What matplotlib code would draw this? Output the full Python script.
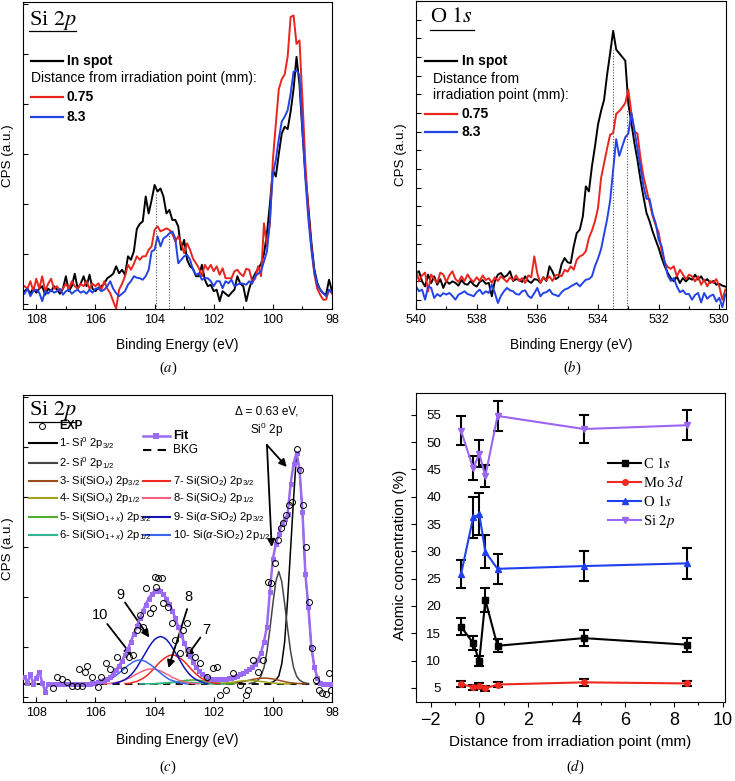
import matplotlib
matplotlib.use("Agg")
import matplotlib.pyplot as plt
import numpy as np
from matplotlib.lines import Line2D
from matplotlib.ticker import MultipleLocator

plt.rcParams['font.family'] = ['Liberation Sans', 'DejaVu Sans']
plt.rcParams['mathtext.fontset'] = 'custom'
plt.rcParams['mathtext.rm'] = 'Liberation Sans'
plt.rcParams['mathtext.it'] = 'Liberation Sans:italic'
plt.rcParams['mathtext.bf'] = 'Liberation Sans:bold'
SERIF = ['Liberation Serif', 'DejaVu Serif']

BLACK, RED, BLUE = '#000000', '#E8251F', '#2443E6'
PURPLE = '#9A6BF2'

# ---------------- (a) Si 2p, 108.4 -> 98.0 eV, 0.1 eV steps ----------------
si_spot = [0.25, 0.30, 0.20, 0.32, 0.22, 0.30, 0.35, 0.18, 0.30, 0.25,
           0.35, 0.28, 0.20, 0.30, 0.55, 0.25, 0.35, 0.60, 0.30, 0.40,
           0.55, 0.35, 0.58, 0.30, 0.25, 0.32, 0.35, 0.40, 0.51, 0.55,
           0.60, 0.75, 0.61, 0.68, 0.58, 0.95, 0.88, 1.05, 1.50, 1.60,
           1.65, 2.15, 1.81, 2.08, 2.38, 2.25, 2.31, 2.15, 1.81, 1.88,
           1.68, 1.68, 1.55, 1.08, 1.28, 0.88, 0.75, 0.70, 0.55, 0.55,
           0.78, 0.48, 0.35, 0.38, 0.25, 0.28, 0.05, 0.25, 0.20, 0.15,
           0.22, 0.28, 0.55, 0.40, 0.35, 0.05, 0.30, 0.48, 0.60, 0.70,
           0.80, 1.00, 1.41, 2.00, 2.68, 2.55, 3.00, 3.41, 3.55, 3.50,
           3.85, 4.30, 4.95, 4.40, 3.45, 2.60, 1.95, 1.25, 0.70, 0.42,
           0.28, 0.21, 0.18, 0.48, 0.25]
si_075 = [0.35, 0.30, 0.45, 0.25, 0.50, 0.30, 0.55, 0.25, 0.40, 0.50,
          0.30, 0.35, 0.25, 0.30, 0.40, 0.30, 0.45, 0.35, 0.30, 0.40,
          0.35, 0.45, 0.30, 0.40, 0.35, 0.41, 0.28, 0.45, 0.30, 0.21,
          0.05, -0.10, 0.28, 0.40, 0.55, 0.78, 0.68, 0.80, 0.95, 0.88,
          0.95, 0.95, 1.08, 1.15, 1.48, 1.55, 1.45, 1.48, 1.51, 1.48,
          1.40, 1.25, 1.35, 1.21, 1.01, 1.21, 1.08, 0.90, 0.81, 0.71,
          0.55, 0.78, 0.68, 0.78, 0.65, 0.75, 0.58, 0.71, 0.51, 0.51,
          0.51, 0.65, 0.68, 0.60, 0.55, 0.70, 0.68, 0.45, 0.50, 0.75,
          0.55, 1.61, 1.15, 1.60, 2.88, 3.60, 4.30, 4.50, 4.60, 4.95,
          5.75, 5.78, 5.21, 5.28, 4.10, 2.80, 1.85, 1.15, 0.60, 0.30,
          0.18, 0.08, 0.08, 0.28, 0.20]
si_83 = [0.20, 0.30, 0.15, 0.25, 0.28, 0.22, 0.05, 0.25, 0.20, 0.28,
         0.22, 0.25, 0.30, 0.18, 0.25, 0.28, 0.20, 0.25, 0.28, 0.22,
         0.25, 0.20, 0.28, 0.22, 0.30, 0.31, 0.25, 0.28, 0.35, 0.45,
         0.30, 0.21, 0.15, 0.20, 0.25, 0.38, 0.45, 0.55, 0.52, 0.51,
         0.48, 0.55, 0.68, 1.05, 1.08, 1.35, 1.15, 1.31, 1.35, 1.41,
         1.45, 1.31, 0.81, 0.88, 0.95, 0.98, 0.88, 0.68, 0.58, 0.61,
         0.48, 0.51, 0.51, 0.45, 0.35, 0.45, 0.45, 0.31, 0.45, 0.41,
         0.48, 0.35, 0.38, 0.41, 0.40, 0.38, 0.45, 0.40, 0.55, 0.60,
         0.65, 0.85, 1.05, 1.70, 2.61, 2.88, 3.30, 3.65, 3.75, 3.88,
         4.21, 4.65, 4.68, 4.58, 3.50, 2.50, 1.70, 1.10, 0.65, 0.38,
         0.28, 0.21, 0.15, 0.28, 0.22]
si_mark_E = [103.95, 103.5]
si_mark_top = [2.22, 1.45]

# ---------------- (b) O 1s, 540.0 -> 529.8 eV, 0.1 eV steps ----------------
o_spot = [1.43, 1.52, 0.98, 0.71, 1.34, 0.89, 1.25, 0.80, 1.10, 0.63,
          1.00, 0.85, 0.98, 0.90, 0.75, 1.05, 0.85, 0.80, 1.00, 0.80,
          0.70, 0.95, 1.05, 0.85, 0.90, 0.18, 1.00, 1.34, 1.43, 1.20,
          1.30, 1.52, 1.00, 1.10, 1.07, 0.95, 1.25, 1.00, 0.90, 1.10,
          1.07, 0.90, 1.20, 1.00, 1.79, 1.50, 1.10, 1.20, 1.90, 2.23,
          2.00, 1.96, 2.86, 3.57, 3.75, 4.46, 6.07, 5.80, 7.14, 8.20,
          9.38, 10.10, 10.70, 12.05, 13.20, 14.40, 13.40, 13.20, 13.00, 12.80,
          10.50, 9.46, 8.39, 7.50, 6.43, 5.50, 4.64, 4.20, 3.66, 3.20,
          2.77, 2.23, 1.79, 1.43, 1.16, 0.98, 1.25, 0.89, 1.16, 0.98,
          1.16, 1.07, 1.34, 1.07, 1.25, 0.98, 1.10, 0.90, 1.00, 0.80,
          0.85, 0.75, 0.70]
o_075 = [1.60, 1.00, 1.30, 1.45, 0.45, 1.35, 1.10, 0.90, 1.45, 1.35,
         0.95, 1.30, 1.52, 1.10, 0.95, 1.25, 1.00, 1.35, 1.10, 0.95,
         1.20, 1.00, 1.30, 1.05, 1.15, 0.90, 1.20, 1.00, 1.25, 1.10,
         0.95, 1.20, 1.05, 1.30, 1.00, 1.15, 0.90, 1.30, 1.20, 2.32,
         1.40, 0.90, 1.20, 1.05, 1.25, 1.00, 1.30, 1.34, 1.25, 1.60,
         1.50, 1.79, 1.61, 2.14, 2.32, 2.40, 2.60, 3.30, 3.70, 4.20,
         4.90, 6.50, 7.30, 8.10, 8.84, 8.93, 9.95, 10.10, 10.30, 10.54,
         11.25, 10.00, 9.00, 8.90, 7.60, 6.60, 5.90, 5.20, 4.50, 4.00,
         3.60, 2.60, 2.00, 1.75, 1.65, 1.79, 1.25, 1.60, 1.35, 1.10,
         1.34, 1.25, 0.98, 1.25, 0.80, 1.07, 0.71, 1.00, 0.90, 1.10,
         0.70, 0.00, 0.55]
o_83 = [0.71, 0.45, 0.54, 0.00, 0.71, 0.63, 0.09, 0.30, 0.18, 0.35,
        0.27, 0.36, 0.20, 0.00, 0.27, 0.35, 0.45, 0.30, 0.25, 0.18,
        0.40, 0.54, 0.30, 0.45, 0.36, 0.80, 0.36, -0.18, 0.20, 0.45,
        0.63, 0.50, 0.45, 0.30, 0.27, 0.45, 0.50, 0.20, 0.09, 0.35,
        0.63, 0.18, 0.36, 0.40, 0.54, 0.30, 0.25, 0.18, 0.40, 0.54,
        0.60, 0.71, 0.80, 0.89, 0.71, 0.90, 1.07, 1.10, 1.25, 1.79,
        2.20, 2.70, 3.50, 4.30, 5.30, 6.96, 8.60, 7.70, 8.21, 8.70,
        8.90, 10.00, 9.10, 8.10, 7.10, 6.07, 5.40, 5.40, 4.60, 4.10,
        3.20, 2.86, 2.00, 1.30, 1.00, 1.16, 0.71, 0.40, 0.50, 0.30,
        0.30, 0.00, 0.25, 0.36, -0.15, 0.36, 0.05, 0.20, 0.27, -0.10,
        0.10, -0.40, 0.30]
o_mark_E = [533.49, 533.05]
o_mark_top = [13.4, 10.2]

# ---------------- (c) Si 2p fit ----------------
exp_E = [107.42, 107.30, 107.13, 106.96, 106.80, 106.63, 106.57, 106.46, 106.35, 106.27,
         106.10, 105.90, 105.80, 105.64, 105.50, 105.28, 105.05, 104.88, 104.74, 104.60,
         104.49, 104.38, 104.29, 104.15, 104.07, 103.98, 103.95, 103.87, 103.76, 103.70,
         103.53, 103.42, 103.31, 103.14, 103.05, 102.92, 102.82, 102.63, 102.47, 102.24,
         102.02, 101.88, 101.79, 101.57, 101.34, 101.12, 100.91, 100.83, 100.67, 100.50,
         100.33, 100.16, 100.05, 99.93, 99.82, 99.74, 99.65, 99.56, 99.45, 99.34,
         99.20, 99.09, 98.98, 98.89, 98.78, 98.66, 98.53, 98.44, 98.33, 98.21,
         98.10, 98.02]
exp_I = [0.17, 0.40, 0.35, 0.30, 0.21, 0.21, 0.55, 0.21, 0.50, 0.62,
         0.39, 0.20, 0.39, 0.67, 0.55, 0.80, 0.53, 0.80, 0.83, 1.33,
         1.63, 1.40, 2.17, 1.67, 1.77, 2.40, 2.20, 2.37, 2.37, 1.87,
         1.80, 1.47, 1.13, 0.87, 1.33, 1.47, 0.93, 0.80, 0.67, 0.40,
         0.57, 0.60, 0.03, 0.13, 0.47, 0.23, 0.03, 0.13, 0.73, 0.50,
         0.73, 2.30, 2.27, 2.67, 3.13, 3.37, 3.47, 3.63, 3.83, 3.90,
         4.95, 4.53, 3.83, 3.00, 1.90, 0.97, 0.33, 0.13, 0.08, 0.05,
         0.47, 0.13]
# fit envelope, 108.4 -> 98.0 eV in 0.1 eV steps
fit_I = [0.40, 0.27, 0.45, 0.25, 0.38, 0.50, 0.28, 0.10, 0.26, 0.26,
         0.26, 0.26, 0.26, 0.26, 0.26, 0.26, 0.26, 0.26, 0.26, 0.26,
         0.26, 0.26, 0.26, 0.27, 0.28, 0.29, 0.31, 0.33, 0.36, 0.40,
         0.46, 0.54, 0.62, 0.72, 0.84, 0.96, 1.10, 1.26, 1.41, 1.57,
         1.71, 1.84, 1.96, 2.05, 2.11, 2.13, 2.11, 2.05, 1.96, 1.86,
         1.72, 1.57, 1.40, 1.24, 1.08, 0.94, 0.81, 0.69, 0.59, 0.51,
         0.45, 0.41, 0.38, 0.36, 0.35, 0.35, 0.35, 0.35, 0.36, 0.37,
         0.38, 0.40, 0.42, 0.45, 0.48, 0.51, 0.55, 0.60, 0.66, 0.74,
         0.88, 1.10, 1.40, 2.10, 2.75, 3.05, 3.25, 3.45, 3.55, 3.65,
         4.25, 4.65, 4.88, 4.55, 3.70, 2.45, 1.80, 1.00, 0.60, 0.38,
         0.28, 0.26, 0.25, 0.25, 0.25]
bkg_E = [108.4, 98.0]
bkg_I = [0.25, 0.25]

comp_labels = ['1- Si$^{\\mathit{0}}$ 2p$_{3/2}$', '2- Si$^{\\mathit{0}}$ 2p$_{1/2}$',
               '3- Si(SiO$_x$) 2p$_{3/2}$', '4- Si(SiO$_x$) 2p$_{1/2}$',
               '5- Si(SiO$_{1+x}$) 2p$_{3/2}$', '6- Si(SiO$_{1+x}$) 2p$_{1/2}$',
               '7- Si(SiO$_2$) 2p$_{3/2}$', '8- Si(SiO$_2$) 2p$_{1/2}$',
               '9- Si($\\alpha$-SiO$_2$) 2p$_{3/2}$', '10- Si($\\alpha$-SiO$_2$) 2p$_{1/2}$']
comp_colors = ['#000000', '#454545', '#9B4A1A', '#A3A21E', '#4FAE2E', '#2FB58F',
               '#F02A1E', '#F2607E', '#1414B8', '#3A66F0']
comp_start = [100.2, 100.8, 101.7, 102.2, 104.1, 104.5, 105.0, 105.7, 105.4, 106.1]
comp_step = [0.1, 0.1, 0.2, 0.2, 0.2, 0.2, 0.1, 0.1, 0.1, 0.1]
c1 = [0.01, 0.02, 0.04, 0.08, 0.16, 0.40, 0.85, 1.70, 2.70, 3.70, 4.60,
      4.30, 3.45, 2.20, 1.55, 0.75, 0.35, 0.13, 0.03, 0.01, 0.0]
c2 = [0.01, 0.02, 0.04, 0.08, 0.16, 0.33, 0.65, 1.10, 1.60, 2.05, 2.25,
      2.05, 1.60, 1.10, 0.65, 0.33, 0.16, 0.08, 0.04, 0.02, 0.01]
c3 = [0.003, 0.008, 0.018, 0.033, 0.06, 0.09, 0.11, 0.12, 0.11, 0.09, 0.06, 0.033, 0.018, 0.008, 0.003]
c4 = [0.001, 0.004, 0.01, 0.02, 0.035, 0.05, 0.065, 0.07, 0.065, 0.05, 0.035, 0.02, 0.01, 0.004, 0.001]
c5 = [0.002, 0.005, 0.012, 0.023, 0.04, 0.06, 0.075, 0.08, 0.075, 0.06, 0.04, 0.023, 0.012, 0.005, 0.002]
c6 = [0.001, 0.002, 0.006, 0.011, 0.02, 0.03, 0.037, 0.04, 0.037, 0.03, 0.02, 0.011, 0.006, 0.002, 0.001]
c7 = [0.01, 0.01, 0.02, 0.04, 0.05, 0.08, 0.11, 0.15, 0.20, 0.26, 0.32, 0.39, 0.45, 0.50, 0.54, 0.57, 0.58,
      0.57, 0.54, 0.50, 0.45, 0.39, 0.32, 0.26, 0.20, 0.15, 0.11, 0.08, 0.05, 0.04, 0.02, 0.01, 0.01]
c8 = [0.0, 0.01, 0.01, 0.02, 0.03, 0.04, 0.06, 0.08, 0.11, 0.13, 0.17, 0.20, 0.23, 0.26, 0.28, 0.30, 0.30,
      0.30, 0.28, 0.26, 0.23, 0.20, 0.17, 0.13, 0.11, 0.08, 0.06, 0.04, 0.03, 0.02, 0.01, 0.01, 0.0]
c9 = [0.01, 0.02, 0.04, 0.06, 0.09, 0.13, 0.18, 0.25, 0.33, 0.43, 0.53, 0.63, 0.73, 0.82, 0.89, 0.93, 0.95,
      0.93, 0.89, 0.82, 0.73, 0.63, 0.53, 0.43, 0.33, 0.25, 0.18, 0.13, 0.09, 0.06, 0.04, 0.02, 0.01]
c10 = [0.0, 0.01, 0.02, 0.03, 0.05, 0.07, 0.09, 0.13, 0.17, 0.22, 0.27, 0.32, 0.37, 0.41, 0.45, 0.47, 0.48,
       0.47, 0.45, 0.41, 0.37, 0.32, 0.27, 0.22, 0.17, 0.13, 0.09, 0.07, 0.05, 0.03, 0.02, 0.01, 0.0]
comp_I = [c1, c2, c3, c4, c5, c6, c7, c8, c9, c10]

# ---------------- (d) atomic concentration ----------------
dist = [-0.75, -0.25, 0.0, 0.25, 0.75, 4.3, 8.55]
c_1s = [16.2, 13.2, 9.9, 21.1, 12.7, 14.1, 12.9]
c_1s_err = [1.6, 1.2, 0.9, 2.2, 1.2, 1.4, 1.3]
mo_3d = [5.7, 5.1, 5.3, 4.9, 5.6, 6.0, 5.8]
mo_3d_err = [0.5, 0.5, 0.5, 0.5, 0.5, 0.6, 0.5]
o_1s = [25.8, 36.2, 36.8, 29.9, 26.8, 27.3, 27.8]
o_1s_err = [2.6, 3.7, 3.8, 3.0, 2.7, 2.8, 2.9]
si_2p = [52.1, 45.2, 47.9, 43.8, 54.8, 52.4, 53.1]
si_2p_err = [2.6, 2.2, 2.4, 2.1, 2.7, 2.6, 2.7]


def spec_style(ax, xlim, ylim, ystep):
    ax.set_xlim(*xlim)
    ax.set_ylim(*ylim)
    ax.xaxis.set_major_locator(MultipleLocator(2))
    ax.xaxis.set_minor_locator(MultipleLocator(1))
    ax.yaxis.set_major_locator(MultipleLocator(ystep))
    ax.tick_params(which='major', direction='in', length=3.5, width=0.8, labelsize=9, labelleft=False)
    ax.tick_params(which='minor', direction='in', length=2, width=0.8)
    for s in ax.spines.values():
        s.set_linewidth(0.8)
    ax.set_xlabel('Binding Energy (eV)', fontsize=9.8)
    ax.set_ylabel('CPS (a.u.)', fontsize=9.6)


def title(ax, x, y, text, ux0, ux1, uy):
    ax.text(x, y, text, transform=ax.transAxes, fontsize=16, family=SERIF,
            math_fontfamily='stix', ha='left', va='center')
    ax.add_line(Line2D([ux0, ux1], [uy, uy], transform=ax.transAxes, color='k', lw=0.9))


def key(ax, x0, x1, y, color, **kw):
    ax.add_line(Line2D([x0, x1], [y, y], transform=ax.transAxes, color=color, **kw))


fig = plt.figure(figsize=(7.35, 7.81), dpi=100)
W, H = 735.0, 781.0


def axes_px(l, t, r, b):
    return fig.add_axes([l / W, 1 - b / H, (r - l) / W, (b - t) / H])


ax_a = axes_px(23, 2, 332, 309)
ax_b = axes_px(416, 1, 726, 309)
ax_c = axes_px(23, 395, 332, 702)
ax_d = axes_px(416, 393, 725, 702)

# ---- (a) ----
E_si = np.linspace(108.4, 98.0, len(si_spot))
ax_a.plot(E_si, si_spot, color=BLACK, lw=1.4)
ax_a.plot(E_si, si_075, color=RED, lw=1.4)
ax_a.plot(E_si, si_83, color=BLUE, lw=1.4)
spec_style(ax_a, (108.45, 98.0), (-0.107, 6.05), 1)
ax_a.vlines(si_mark_E, -0.107, si_mark_top, colors='#555555', linestyles=(0, (1, 1.5)), lw=0.8)
title(ax_a, 0.019, 0.941, 'Si $\\mathit{2p}$', 0.019, 0.172, 0.906)
key(ax_a, 0.026, 0.129, 0.808, BLACK, lw=1.6)
ax_a.text(0.142, 0.808, 'In spot', transform=ax_a.transAxes, fontsize=10, fontweight='bold', va='center')
ax_a.text(0.026, 0.752, 'Distance from irradiation point (mm):', transform=ax_a.transAxes, fontsize=10, va='center')
key(ax_a, 0.026, 0.129, 0.691, RED, lw=1.6)
ax_a.text(0.142, 0.691, '0.75', transform=ax_a.transAxes, fontsize=10, fontweight='bold', va='center')
key(ax_a, 0.026, 0.129, 0.625, BLUE, lw=1.6)
ax_a.text(0.142, 0.625, '8.3', transform=ax_a.transAxes, fontsize=10, fontweight='bold', va='center')
ax_a.yaxis.set_label_coords(-0.028, 0.5)
ax_a.xaxis.set_label_coords(0.5, -0.094)

# ---- (b) ----
E_o = np.linspace(540.0, 529.8, len(o_spot))
ax_b.plot(E_o, o_spot, color=BLACK, lw=1.4)
ax_b.plot(E_o, o_075, color=RED, lw=1.4)
ax_b.plot(E_o, o_83, color=BLUE, lw=1.4)
spec_style(ax_b, (540.0, 529.78), (-0.5, 16.0), 1)
ax_b.vlines(o_mark_E, -0.5, o_mark_top, colors='#555555', linestyles=(0, (1, 1.5)), lw=0.8)
title(ax_b, 0.045, 0.945, 'O $\\mathit{1s}$', 0.045, 0.187, 0.906)
key(ax_b, 0.029, 0.132, 0.805, BLACK, lw=1.6)
ax_b.text(0.148, 0.805, 'In spot', transform=ax_b.transAxes, fontsize=10, fontweight='bold', va='center')
ax_b.text(0.055, 0.747, 'Distance from', transform=ax_b.transAxes, fontsize=10, va='center')
ax_b.text(0.055, 0.695, 'irradiation point (mm):', transform=ax_b.transAxes, fontsize=10, va='center')
key(ax_b, 0.029, 0.132, 0.633, RED, lw=1.6)
ax_b.text(0.148, 0.633, '0.75', transform=ax_b.transAxes, fontsize=10, fontweight='bold', va='center')
key(ax_b, 0.029, 0.132, 0.575, BLUE, lw=1.6)
ax_b.text(0.148, 0.575, '8.3', transform=ax_b.transAxes, fontsize=10, fontweight='bold', va='center')
ax_b.yaxis.set_label_coords(-0.029, 0.5)
ax_b.xaxis.set_label_coords(0.5, -0.094)

# ---- (c) ----
ax_c.plot(bkg_E, bkg_I, color='k', lw=1.3, ls=(0, (4, 3)), zorder=2)
for vals, start, step, col in zip(comp_I, comp_start, comp_step, comp_colors):
    e = np.linspace(start, start - step * (len(vals) - 1), len(vals))
    ax_c.plot(e, np.array(vals) + bkg_I[0], color=col, lw=1.1, zorder=3)
E_fit = np.linspace(108.4, 98.0, len(fit_I))
ax_c.plot(E_fit, fit_I, color=PURPLE, lw=1.8, marker='s', ms=3.6, mew=0, zorder=4)
ax_c.plot(exp_E, exp_I, ls='none', marker='o', ms=4.3, mfc='none', mec='k', mew=0.7, zorder=5)
spec_style(ax_c, (108.45, 98.0), (-0.11, 6.03), 1)
title(ax_c, 0.019, 0.951, 'Si $\\mathit{2p}$', 0.019, 0.172, 0.912)
ax_c.yaxis.set_label_coords(-0.028, 0.5)
ax_c.xaxis.set_label_coords(0.5, -0.101)

# legend, left column
ax_c.add_line(Line2D([0.0615], [0.899], transform=ax_c.transAxes, ls='none', marker='o', ms=4.3,
                     mfc='none', mec='k', mew=0.7))
ax_c.text(0.117, 0.899, 'EXP', transform=ax_c.transAxes, fontsize=8.5, fontweight='bold', va='center')
rows = [0.843, 0.779, 0.721, 0.664, 0.604, 0.544]
for i in range(6):
    key(ax_c, 0.019, 0.110, rows[i], comp_colors[i], lw=1.5)
    ax_c.text(0.117, rows[i], comp_labels[i], transform=ax_c.transAxes, fontsize=8, va='center')
# legend, right column
ax_c.add_line(Line2D([0.388, 0.432, 0.476], [0.867] * 3, transform=ax_c.transAxes, color=PURPLE,
                     lw=1.8, marker='s', ms=3.8, mew=0, markevery=[1]))
ax_c.text(0.487, 0.867, 'Fit', transform=ax_c.transAxes, fontsize=9, fontweight='bold', va='center')
key(ax_c, 0.388, 0.476, 0.821, 'k', lw=1.5, ls=(0, (4, 3)))
ax_c.text(0.487, 0.821, 'BKG', transform=ax_c.transAxes, fontsize=8.5, va='center')
for j, i in enumerate(range(6, 10)):
    key(ax_c, 0.388, 0.476, rows[j + 2], comp_colors[i], lw=1.5)
    ax_c.text(0.487, rows[j + 2], comp_labels[i], transform=ax_c.transAxes, fontsize=8, va='center')

# annotations
arrow = dict(arrowstyle='-|>', color='k', lw=1.3, mutation_scale=11, shrinkA=0, shrinkB=0)
ax_c.text(100.2, 5.48, 'Δ = 0.63 eV,\nSi$^{\\mathit{0}}$ 2p', fontsize=8.5, ha='center', va='center',
          linespacing=1.25)
ax_c.annotate('', xy=(99.53, 4.59), xytext=(100.2, 5.03), arrowprops=arrow)
ax_c.annotate('', xy=(100.04, 2.99), xytext=(100.2, 5.03), arrowprops=arrow)
ax_c.text(105.84, 1.63, '10', fontsize=10.5, ha='center', va='center')
ax_c.annotate('', xy=(104.77, 0.82), xytext=(105.6, 1.45), arrowprops=arrow)
ax_c.text(105.17, 2.03, '9', fontsize=10.5, ha='center', va='center')
ax_c.annotate('', xy=(104.18, 1.18), xytext=(105.0, 1.88), arrowprops=arrow)
ax_c.text(102.87, 1.99, '8', fontsize=10.5, ha='center', va='center')
ax_c.annotate('', xy=(103.53, 0.57), xytext=(102.9, 1.75), arrowprops=arrow)
ax_c.text(102.25, 1.33, '7', fontsize=10.5, ha='center', va='center')
ax_c.annotate('', xy=(102.94, 0.78), xytext=(102.45, 1.18), arrowprops=arrow)

# ---- (d) ----
series = [(c_1s, c_1s_err, BLACK, 's', 'C $\\mathit{1s}$', 4.5),
          (mo_3d, mo_3d_err, '#F0281E', 'o', 'Mo $\\mathit{3d}$', 4.0),
          (o_1s, o_1s_err, '#2040F0', '^', 'O $\\mathit{1s}$', 5.0),
          (si_2p, si_2p_err, '#9966F5', 'v', 'Si $\\mathit{2p}$', 5.0)]
handles = []
for vals, err, col, mk, lab, ms in series:
    ax_d.errorbar(dist, vals, yerr=err, fmt='none', ecolor='k', elinewidth=1.5, capsize=3.5,
                  capthick=1.5, zorder=2)
    h, = ax_d.plot(dist, vals, color=col, marker=mk, ms=ms, lw=1.5, zorder=3, label=lab)
    handles.append(h)
ax_d.set_xlim(-2.6, 10.1)
ax_d.set_ylim(2.4, 59)
ax_d.xaxis.set_major_locator(MultipleLocator(2))
ax_d.xaxis.set_minor_locator(MultipleLocator(1))
ax_d.set_yticks(np.arange(5, 56, 5))
ax_d.tick_params(axis='x', which='major', direction='out', length=3.5, width=0.8, labelsize=13)
ax_d.tick_params(axis='x', which='minor', direction='out', length=2, width=0.8)
ax_d.tick_params(axis='y', which='major', direction='out', length=3.5, width=0.8, labelsize=9.5, pad=-21.5)
for s in ax_d.spines.values():
    s.set_linewidth(0.8)
ax_d.set_xlabel('Distance from irradiation point (mm)', fontsize=11)
ax_d.set_ylabel('Atomic concentration (%)', fontsize=11)
ax_d.yaxis.set_label_coords(-0.029, 0.476)
ax_d.xaxis.set_label_coords(0.5, -0.107)
leg = ax_d.legend(handles=handles, loc='upper left', bbox_to_anchor=(0.621, 0.797), frameon=False,
                  borderpad=0, borderaxespad=0, handlelength=2.3, handletextpad=0.1, labelspacing=0.25,
                  prop={'family': SERIF, 'size': 10.5})
for t in leg.get_texts():
    t.set_math_fontfamily('stix')

# captions
for x, y, lab in [(168, 368, 'a'), (572, 368, 'b'), (168, 767, 'c'), (575, 767, 'd')]:
    fig.text(x / W, 1 - y / H, '($\\mathit{%s}$)' % lab, fontsize=10.5, family=SERIF,
             math_fontfamily='stix', ha='center', va='center')

fig.savefig('out.png', dpi=100)
